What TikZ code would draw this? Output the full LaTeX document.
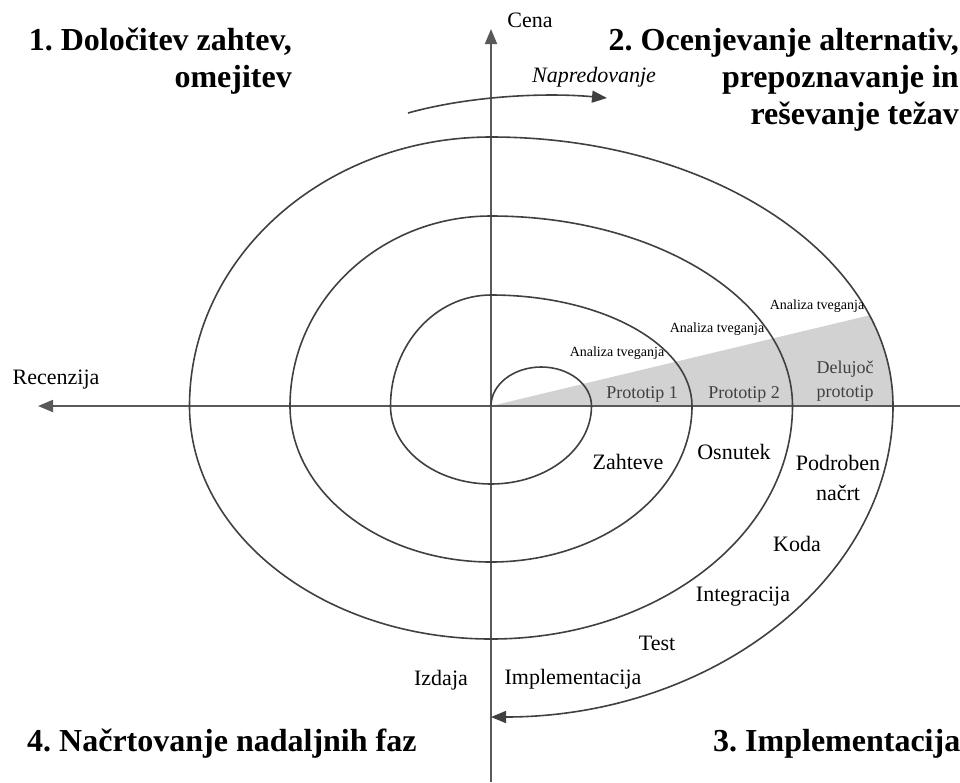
\documentclass[tikz,border=0pt]{standalone}
\usepackage{fontspec}
\setmainfont{Liberation Serif}
\usetikzlibrary{arrows.meta}
\frenchspacing
\begin{document}
\begin{tikzpicture}[x=1pt, y=-1pt,
  axisline/.style={draw=black!65, line width=1.8pt},
  spiralline/.style={draw=black!75, line width=1.6pt},
  tipend/.style={-{Triangle[length=15pt,width=12pt]}},
  lbl/.style={inner sep=0pt, font=\fontsize{22pt}{30pt}\selectfont},
  risk/.style={inner sep=0pt, font=\fontsize{14pt}{16pt}\selectfont},
  proto/.style={inner sep=0pt, text=black!75, align=center, font=\fontsize{18pt}{24pt}\selectfont},
  phase/.style={inner sep=0pt, font=\fontsize{32pt}{37pt}\selectfont\bfseries}
]
\useasboundingbox (0,0) rectangle (960,782);

% centre of the spiral and the axis end points
\coordinate (O) at (491,406);
\coordinate (ytop) at (491,29);
\coordinate (ybot) at (491,782);
\coordinate (xleft) at (38,406);
\coordinate (xright) at (960,406);

% shaded prototype sector
\fill[gray!35] (O) -- ++(378.5,-90.7)
  arc[start angle=340.3, end angle=360, x radius=402, y radius=269] -- cycle;

% axes
\draw[axisline, tipend] (ybot) -- (ytop);
\draw[axisline, tipend] (xright) -- (xleft);

% the spiral, quarter by quarter
\draw[spiralline, tipend] (O)
  arc[start angle=180, end angle=360, x radius=50.25, y radius=39]
  arc[start angle=0,   end angle=90,  x radius=100.5, y radius=78]
  arc[start angle=90,  end angle=180, x radius=100.5, y radius=78]
  arc[start angle=180, end angle=270, x radius=100.5, y radius=111]
  arc[start angle=270, end angle=360, x radius=201,   y radius=111]
  arc[start angle=0,   end angle=90,  x radius=201,   y radius=156]
  arc[start angle=90,  end angle=180, x radius=201,   y radius=156]
  arc[start angle=180, end angle=270, x radius=201,   y radius=190]
  arc[start angle=270, end angle=360, x radius=301.5, y radius=190]
  arc[start angle=0,   end angle=90,  x radius=301.5, y radius=233]
  arc[start angle=90,  end angle=180, x radius=301.5, y radius=233]
  arc[start angle=180, end angle=270, x radius=301.5, y radius=269]
  arc[start angle=270, end angle=360, x radius=402,   y radius=269]
  arc[start angle=0,   end angle=90,  x radius=402,   y radius=311];

% progress arrow
\coordinate (pstart) at (408,113);
\coordinate (pend) at (607,98);
\draw[draw=black!75, line width=1.6pt, tipend] (pstart) .. controls (465,97) and (540,92) .. (pend);
\node[lbl, font=\fontsize{22pt}{26pt}\selectfont\itshape] (napr) at (594,77) {Napredovanje};

% axis labels
\node[lbl] (cena) at (530,20) {Cena};
\node[lbl] (rec) at (56,380) {Recenzija};

% risk analysis labels
\node[risk] (r1) at (617,353) {Analiza tveganja};
\node[risk] (r2) at (717,329) {Analiza tveganja};
\node[risk] (r3) at (817,306) {Analiza tveganja};

% prototypes
\node[proto] (p1) at (642,394) {Prototip 1};
\node[proto] (p2) at (744,394) {Prototip 2};
\node[proto] (p3) at (845,381) {Delujoč\\prototip};

% development steps
\node[lbl] (zah) at (628,462) {Zahteve};
\node[lbl] (osn) at (734,452) {Osnutek};
\node[lbl, align=center] (pod) at (838,478) {Podroben\\načrt};
\node[lbl] (kod) at (797,544) {Koda};
\node[lbl] (int) at (743,597) {Integracija};
\node[lbl] (tst) at (657,643) {Test};
\node[lbl] (imp) at (573,679) {Implementacija};
\node[lbl] (izd) at (441,680) {Izdaja};

% quadrant titles
\node[phase, align=right, anchor=east] (q1) at (292,61) {1. Določitev zahtev,\\omejitev};
\node[phase, align=right, anchor=east] (q2) at (959,80) {2. Ocenjevanje alternativ,\\prepoznavanje in\\reševanje težav};
\node[phase, anchor=west] (q3) at (713,744) {3. Implementacija};
\node[phase, anchor=west] (q4) at (27,744) {4. Načrtovanje nadaljnih faz};
\end{tikzpicture}
\end{document}
